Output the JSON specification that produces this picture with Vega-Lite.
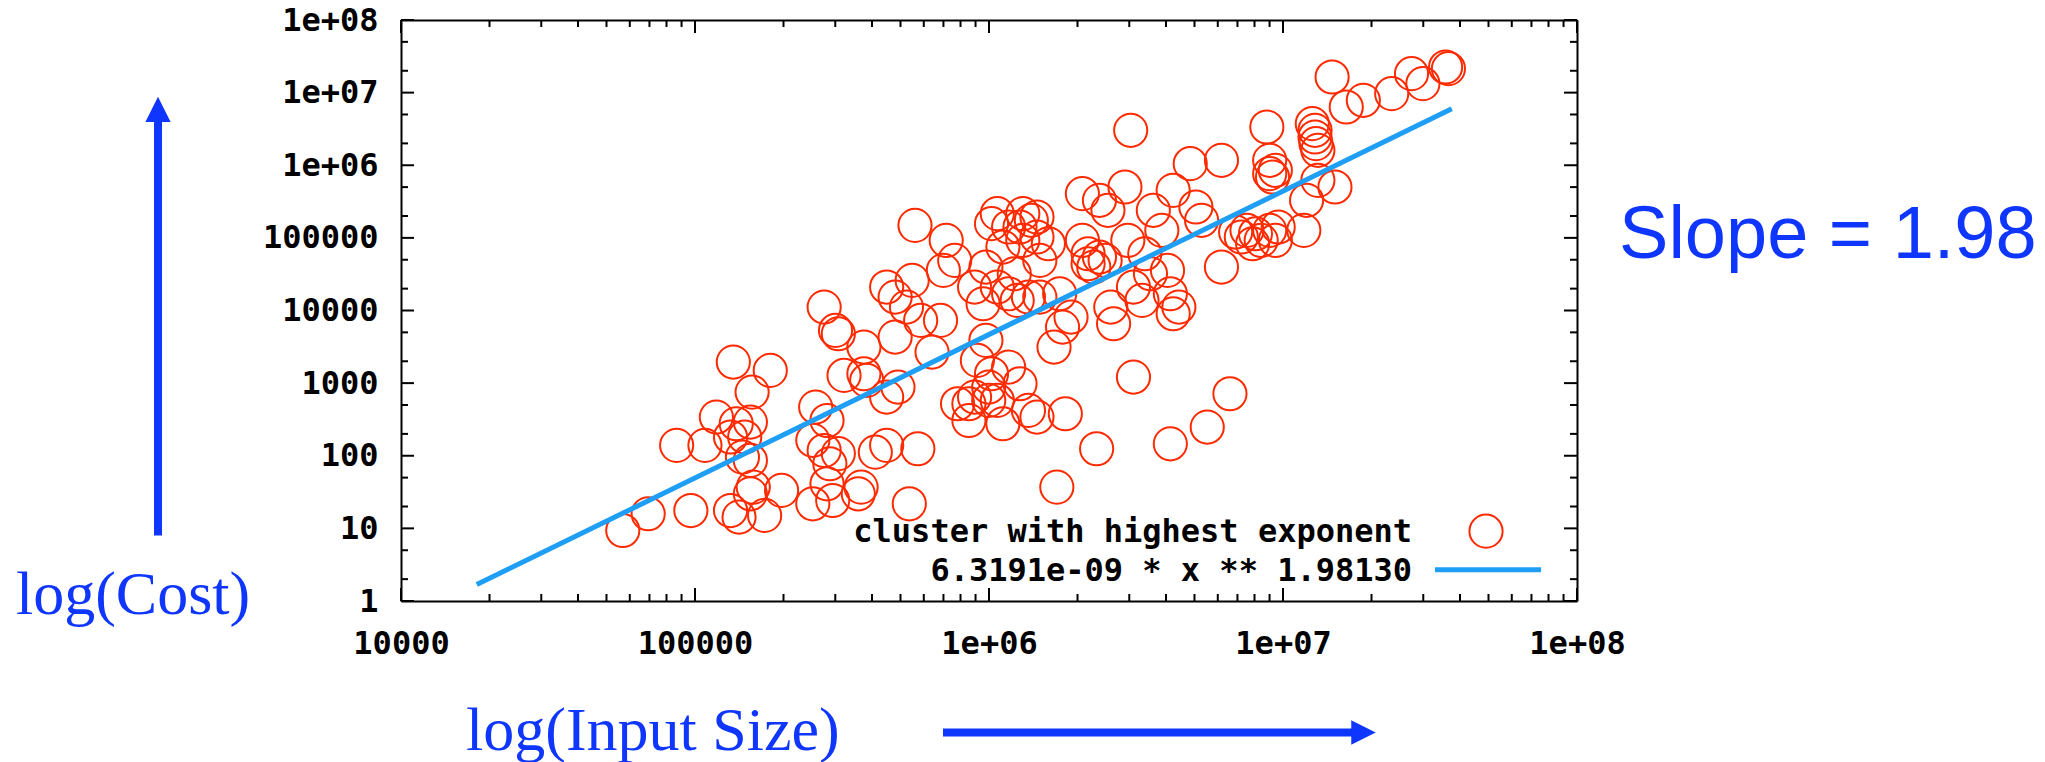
{
  "$schema": "https://vega.github.io/schema/vega-lite/v6.json",
  "width": 1176,
  "height": 581,
  "autosize": {"type": "none"},
  "padding": {"left": 401, "top": 20, "right": 468, "bottom": 161},
  "background": "#ffffff",
  "config": {
    "view": {"stroke": null},
    "axis": {
      "domainColor": "#000000", "domainWidth": 2,
      "labelFont": "DejaVu Sans Mono", "labelFontWeight": "bold", "labelFontSize": 32, "labelColor": "#000000",
      "labelOverlap": false, "labelFlush": false, "labelBound": false
    }
  },
  "datasets": {
    "points": [
      {"size": 56800, "cost": 9.35}, {"size": 69300, "cost": 15.9}, {"size": 96800, "cost": 17.6}, {"size": 86600, "cost": 139},
      {"size": 108100, "cost": 139}, {"size": 118200, "cost": 341}, {"size": 135000, "cost": 1949}, {"size": 180300, "cost": 1496},
      {"size": 156400, "cost": 752}, {"size": 138100, "cost": 276}, {"size": 154300, "cost": 291}, {"size": 147600, "cost": 181},
      {"size": 154300, "cost": 86.2}, {"size": 132100, "cost": 17.6}, {"size": 141200, "cost": 14.3}, {"size": 172500, "cost": 15.1},
      {"size": 154300, "cost": 29.9}, {"size": 197000, "cost": 33.3}, {"size": 251600, "cost": 21.8}, {"size": 157800, "cost": 37.0},
      {"size": 257300, "cost": 468}, {"size": 281200, "cost": 306}, {"size": 251600, "cost": 163}, {"size": 275000, "cost": 118},
      {"size": 287500, "cost": 77.5}, {"size": 307300, "cost": 107}, {"size": 281200, "cost": 41.1}, {"size": 294000, "cost": 24.2},
      {"size": 359200, "cost": 29.9}, {"size": 367200, "cost": 37.0}, {"size": 410500, "cost": 112}, {"size": 448600, "cost": 139},
      {"size": 572700, "cost": 125}, {"size": 535700, "cost": 21.8}, {"size": 275000, "cost": 11150}, {"size": 300600, "cost": 5319},
      {"size": 307300, "cost": 4786}, {"size": 321300, "cost": 1277}, {"size": 375400, "cost": 3135}, {"size": 375400, "cost": 1346},
      {"size": 383800, "cost": 1089}, {"size": 448600, "cost": 642}, {"size": 479400, "cost": 4307}, {"size": 490200, "cost": 882},
      {"size": 448600, "cost": 21030}, {"size": 479400, "cost": 15310}, {"size": 524000, "cost": 11150}, {"size": 547800, "cost": 25980},
      {"size": 560100, "cost": 148700}, {"size": 585500, "cost": 7306}, {"size": 640100, "cost": 2676}, {"size": 684100, "cost": 7306},
      {"size": 715200, "cost": 92380}, {"size": 699500, "cost": 35670}, {"size": 764500, "cost": 48990}, {"size": 781700, "cost": 520},
      {"size": 893200, "cost": 642}, {"size": 854400, "cost": 306}, {"size": 913100, "cost": 2055}, {"size": 976100, "cost": 3873},
      {"size": 954600, "cost": 12390}, {"size": 998000, "cost": 882}, {"size": 1020000, "cost": 1346}, {"size": 1067000, "cost": 578},
      {"size": 1115000, "cost": 276}, {"size": 1166000, "cost": 1663}, {"size": 1275000, "cost": 980}, {"size": 1362000, "cost": 421},
      {"size": 1456000, "cost": 341}, {"size": 1818000, "cost": 379}, {"size": 1701000, "cost": 37.0}, {"size": 893200, "cost": 21030},
      {"size": 976100, "cost": 39660}, {"size": 1020000, "cost": 156800}, {"size": 1115000, "cost": 74770}, {"size": 1219000, "cost": 32100},
      {"size": 1275000, "cost": 141000}, {"size": 1303000, "cost": 215300}, {"size": 1393000, "cost": 174300}, {"size": 1456000, "cost": 102700},
      {"size": 1489000, "cost": 48990}, {"size": 1247000, "cost": 13770}, {"size": 1362000, "cost": 15310}, {"size": 1489000, "cost": 15310},
      {"size": 1592000, "cost": 83110}, {"size": 1664000, "cost": 3135}, {"size": 1739000, "cost": 17020}, {"size": 1779000, "cost": 5912},
      {"size": 1901000, "cost": 8120}, {"size": 2078000, "cost": 92380}, {"size": 2078000, "cost": 405900}, {"size": 2173000, "cost": 60530},
      {"size": 2272000, "cost": 39660}, {"size": 2375000, "cost": 328600}, {"size": 2483000, "cost": 48990}, {"size": 2538000, "cost": 239300},
      {"size": 2595000, "cost": 11150}, {"size": 2653000, "cost": 6572}, {"size": 2323000, "cost": 125}, {"size": 3100000, "cost": 1211},
      {"size": 2900000, "cost": 501400}, {"size": 3033000, "cost": 3025000}, {"size": 2966000, "cost": 92380}, {"size": 3100000, "cost": 21030},
      {"size": 3314000, "cost": 13770}, {"size": 3388000, "cost": 60530}, {"size": 3542000, "cost": 32100}, {"size": 3622000, "cost": 239300},
      {"size": 3871000, "cost": 126900}, {"size": 4047000, "cost": 35670}, {"size": 4231000, "cost": 451100}, {"size": 4138000, "cost": 17020},
      {"size": 4231000, "cost": 9027}, {"size": 4424000, "cost": 11150}, {"size": 4836000, "cost": 1051000}, {"size": 5055000, "cost": 265900},
      {"size": 5285000, "cost": 174300}, {"size": 4138000, "cost": 146}, {"size": 5525000, "cost": 248}, {"size": 6175000, "cost": 1168000},
      {"size": 6175000, "cost": 39660}, {"size": 6600000, "cost": 714}, {"size": 6901000, "cost": 120300}, {"size": 7543000, "cost": 126900},
      {"size": 8062000, "cost": 114100}, {"size": 8429000, "cost": 92380}, {"size": 8811000, "cost": 3362000}, {"size": 9010000, "cost": 1168000},
      {"size": 9212000, "cost": 688300}, {"size": 9419000, "cost": 850800}, {"size": 9010000, "cost": 126900}, {"size": 9630000, "cost": 141000},
      {"size": 11770000, "cost": 126900}, {"size": 12030000, "cost": 328600}, {"size": 12580000, "cost": 3736000}, {"size": 12850000, "cost": 2449000},
      {"size": 13140000, "cost": 1604000}, {"size": 12850000, "cost": 3025000}, {"size": 13140000, "cost": 619400}, {"size": 15020000, "cost": 501400},
      {"size": 14690000, "cost": 16420000}, {"size": 16410000, "cost": 6341000}, {"size": 18760000, "cost": 7833000}, {"size": 23430000, "cost": 9678000},
      {"size": 27360000, "cost": 18250000}, {"size": 29910000, "cost": 13290000}, {"size": 35730000, "cost": 22550000}, {"size": 36530000, "cost": 21380000},
      {"size": 12950000, "cost": 1982000}, {"size": 7215000, "cost": 102700}, {"size": 7884000, "cost": 83100}, {"size": 1067000, "cost": 215300},
      {"size": 1166000, "cost": 141000}, {"size": 1456000, "cost": 193600}, {"size": 2173000, "cost": 44080}, {"size": 2375000, "cost": 54450},
      {"size": 1303000, "cost": 92380}, {"size": 1067000, "cost": 21030}, {"size": 1166000, "cost": 17020}, {"size": 854400, "cost": 520},
      {"size": 998000, "cost": 578}, {"size": 9010000, "cost": 765300}, {"size": 9419000, "cost": 92380}, {"size": 132100, "cost": 181},
      {"size": 145000, "cost": 95.7}
    ],
    "fit": [{"size": 18100, "cost": 1.69}, {"size": 37500000, "cost": 6000000}],
    "xMajor": [{"v": 10000}, {"v": 100000}, {"v": 1000000}, {"v": 10000000}, {"v": 100000000}],
    "xMinor": [
      {"v": 20000}, {"v": 30000}, {"v": 40000}, {"v": 50000}, {"v": 60000}, {"v": 70000}, {"v": 80000}, {"v": 90000},
      {"v": 200000}, {"v": 300000}, {"v": 400000}, {"v": 500000}, {"v": 600000}, {"v": 700000}, {"v": 800000}, {"v": 900000},
      {"v": 2000000}, {"v": 3000000}, {"v": 4000000}, {"v": 5000000}, {"v": 6000000}, {"v": 7000000}, {"v": 8000000}, {"v": 9000000},
      {"v": 20000000}, {"v": 30000000}, {"v": 40000000}, {"v": 50000000}, {"v": 60000000}, {"v": 70000000}, {"v": 80000000}, {"v": 90000000}
    ],
    "yMajor": [{"v": 1}, {"v": 10}, {"v": 100}, {"v": 1000}, {"v": 10000}, {"v": 100000}, {"v": 1000000}, {"v": 10000000}, {"v": 100000000}],
    "yMinor": [
      {"v": 2}, {"v": 5}, {"v": 20}, {"v": 50}, {"v": 200}, {"v": 500}, {"v": 2000}, {"v": 5000},
      {"v": 20000}, {"v": 50000}, {"v": 200000}, {"v": 500000}, {"v": 2000000}, {"v": 5000000}, {"v": 20000000}, {"v": 50000000}
    ],
    "arrows": [
      {"size": 1491, "cost": 7.98, "size2": 1491, "cost2": 4030000},
      {"size": 697500, "cost": 0.01545, "size2": 17570000, "cost2": 0.01545}
    ],
    "headUp": [{"size": 1491, "cost": 5890000}],
    "headRight": [{"size": 18780000, "cost": 0.01545}],
    "serifText": [
      {"label": "log(Cost)", "size": 490, "cost": 0.6726},
      {"label": "log(Input Size)", "size": 16640, "cost": 0.009006}
    ],
    "slope": [{"label": "Slope = 1.98", "size": 139000000, "cost": 52200}],
    "legendText": [
      {"label": "cluster with highest exponent", "size": 27470000, "cost": 8.87},
      {"label": "6.3191e-09 * x ** 1.98130", "size": 27470000, "cost": 2.63}
    ],
    "legendPoint": [{"size": 49040000, "cost": 9.15}],
    "legendLine": [{"size": 32890000, "cost": 2.69, "size2": 75460000, "cost2": 2.69}]
  },
  "resolve": {"axis": {"x": "independent", "y": "independent"}},
  "layer": [
    {
      "data": {"name": "xMajor"},
      "mark": {"type": "tick", "orient": "vertical", "size": 13, "thickness": 2, "color": "#000000", "opacity": 1, "yOffset": -6.5},
      "encoding": {
        "x": {"field": "v", "type": "quantitative", "scale": {"type": "log", "domain": [10000, 100000000], "nice": false}, "axis": null},
        "y": {"datum": 1, "type": "quantitative", "scale": {"type": "log", "domain": [1, 100000000], "nice": false}, "axis": null}
      }
    },
    {
      "data": {"name": "xMajor"},
      "mark": {"type": "tick", "orient": "vertical", "size": 13, "thickness": 2, "color": "#000000", "opacity": 1, "yOffset": 6.5},
      "encoding": {
        "x": {"field": "v", "type": "quantitative", "scale": {"type": "log", "domain": [10000, 100000000], "nice": false}, "axis": null},
        "y": {"datum": 100000000, "type": "quantitative", "scale": {"type": "log", "domain": [1, 100000000], "nice": false}, "axis": null}
      }
    },
    {
      "data": {"name": "xMinor"},
      "mark": {"type": "tick", "orient": "vertical", "size": 7, "thickness": 2, "color": "#000000", "opacity": 1, "yOffset": -3.5},
      "encoding": {
        "x": {"field": "v", "type": "quantitative", "scale": {"type": "log", "domain": [10000, 100000000], "nice": false}, "axis": null},
        "y": {"datum": 1, "type": "quantitative", "scale": {"type": "log", "domain": [1, 100000000], "nice": false}, "axis": null}
      }
    },
    {
      "data": {"name": "xMinor"},
      "mark": {"type": "tick", "orient": "vertical", "size": 7, "thickness": 2, "color": "#000000", "opacity": 1, "yOffset": 3.5},
      "encoding": {
        "x": {"field": "v", "type": "quantitative", "scale": {"type": "log", "domain": [10000, 100000000], "nice": false}, "axis": null},
        "y": {"datum": 100000000, "type": "quantitative", "scale": {"type": "log", "domain": [1, 100000000], "nice": false}, "axis": null}
      }
    },
    {
      "data": {"name": "yMajor"},
      "mark": {"type": "tick", "orient": "horizontal", "size": 13, "thickness": 2, "color": "#000000", "opacity": 1, "xOffset": 6.5},
      "encoding": {
        "x": {"datum": 10000, "type": "quantitative", "scale": {"type": "log", "domain": [10000, 100000000], "nice": false}, "axis": null},
        "y": {"field": "v", "type": "quantitative", "scale": {"type": "log", "domain": [1, 100000000], "nice": false}, "axis": null}
      }
    },
    {
      "data": {"name": "yMajor"},
      "mark": {"type": "tick", "orient": "horizontal", "size": 13, "thickness": 2, "color": "#000000", "opacity": 1, "xOffset": -6.5},
      "encoding": {
        "x": {"datum": 100000000, "type": "quantitative", "scale": {"type": "log", "domain": [10000, 100000000], "nice": false}, "axis": null},
        "y": {"field": "v", "type": "quantitative", "scale": {"type": "log", "domain": [1, 100000000], "nice": false}, "axis": null}
      }
    },
    {
      "data": {"name": "yMinor"},
      "mark": {"type": "tick", "orient": "horizontal", "size": 7, "thickness": 2, "color": "#000000", "opacity": 1, "xOffset": 3.5},
      "encoding": {
        "x": {"datum": 10000, "type": "quantitative", "scale": {"type": "log", "domain": [10000, 100000000], "nice": false}, "axis": null},
        "y": {"field": "v", "type": "quantitative", "scale": {"type": "log", "domain": [1, 100000000], "nice": false}, "axis": null}
      }
    },
    {
      "data": {"name": "yMinor"},
      "mark": {"type": "tick", "orient": "horizontal", "size": 7, "thickness": 2, "color": "#000000", "opacity": 1, "xOffset": -3.5},
      "encoding": {
        "x": {"datum": 100000000, "type": "quantitative", "scale": {"type": "log", "domain": [10000, 100000000], "nice": false}, "axis": null},
        "y": {"field": "v", "type": "quantitative", "scale": {"type": "log", "domain": [1, 100000000], "nice": false}, "axis": null}
      }
    },
    {
      "data": {"name": "points"},
      "mark": {"type": "point", "shape": "circle", "filled": false, "stroke": "#FF2A00", "strokeWidth": 2, "size": 1100, "opacity": 1},
      "encoding": {
        "x": {"field": "size", "type": "quantitative",
          "scale": {"type": "log", "domain": [10000, 100000000], "nice": false},
          "axis": {"orient": "bottom", "title": null, "ticks": false, "domain": true, "grid": false,
            "values": [10000, 100000, 1000000, 10000000, 100000000],
            "labelExpr": "datum.value == 10000 ? '10000' : datum.value == 100000 ? '100000' : datum.value == 1000000 ? '1e+06' : datum.value == 10000000 ? '1e+07' : '1e+08'",
            "labelPadding": 27}},
        "y": {"field": "cost", "type": "quantitative",
          "scale": {"type": "log", "domain": [1, 100000000], "nice": false},
          "axis": {"orient": "left", "title": null, "ticks": false, "domain": true, "grid": false,
            "values": [1, 10, 100, 1000, 10000, 100000, 1000000, 10000000, 100000000],
            "labelExpr": "datum.value == 1 ? '1' : datum.value == 10 ? '10' : datum.value == 100 ? '100' : datum.value == 1000 ? '1000' : datum.value == 10000 ? '10000' : datum.value == 100000 ? '100000' : datum.value == 1000000 ? '1e+06' : datum.value == 10000000 ? '1e+07' : '1e+08'",
            "labelPadding": 23}}
      }
    },
    {
      "data": {"name": "fit"},
      "mark": {"type": "line", "stroke": "#1E9EF5", "strokeWidth": 5},
      "encoding": {
        "x": {"field": "size", "type": "quantitative",
          "scale": {"type": "log", "domain": [10000, 100000000], "nice": false},
          "axis": {"orient": "top", "title": null, "labels": false, "ticks": false, "domain": true, "grid": false, "values": [10000]}},
        "y": {"field": "cost", "type": "quantitative",
          "scale": {"type": "log", "domain": [1, 100000000], "nice": false},
          "axis": {"orient": "right", "title": null, "labels": false, "ticks": false, "domain": true, "grid": false, "values": [1]}}
      }
    },
    {
      "data": {"name": "arrows"},
      "mark": {"type": "rule", "stroke": "#0F36FF", "strokeWidth": 8, "strokeCap": "butt", "clip": false},
      "encoding": {
        "x": {"field": "size", "type": "quantitative", "scale": {"type": "log", "domain": [10000, 100000000], "nice": false}, "axis": null},
        "x2": {"field": "size2"},
        "y": {"field": "cost", "type": "quantitative", "scale": {"type": "log", "domain": [1, 100000000], "nice": false}, "axis": null},
        "y2": {"field": "cost2"}
      }
    },
    {
      "data": {"name": "headUp"},
      "mark": {"type": "point", "shape": "M0,-1L-1,1L1,1Z", "filled": true, "fill": "#0F36FF", "strokeWidth": 0, "size": 640, "opacity": 1, "clip": false},
      "encoding": {
        "x": {"field": "size", "type": "quantitative", "scale": {"type": "log", "domain": [10000, 100000000], "nice": false}, "axis": null},
        "y": {"field": "cost", "type": "quantitative", "scale": {"type": "log", "domain": [1, 100000000], "nice": false}, "axis": null}
      }
    },
    {
      "data": {"name": "headRight"},
      "mark": {"type": "point", "shape": "M1,0L-1,-1L-1,1Z", "filled": true, "fill": "#0F36FF", "strokeWidth": 0, "size": 600, "opacity": 1, "clip": false},
      "encoding": {
        "x": {"field": "size", "type": "quantitative", "scale": {"type": "log", "domain": [10000, 100000000], "nice": false}, "axis": null},
        "y": {"field": "cost", "type": "quantitative", "scale": {"type": "log", "domain": [1, 100000000], "nice": false}, "axis": null}
      }
    },
    {
      "data": {"name": "serifText"},
      "mark": {"type": "text", "font": "Liberation Serif", "fontSize": 62, "color": "#0F36FF", "align": "left", "baseline": "alphabetic", "clip": false},
      "encoding": {
        "x": {"field": "size", "type": "quantitative", "scale": {"type": "log", "domain": [10000, 100000000], "nice": false}, "axis": null},
        "y": {"field": "cost", "type": "quantitative", "scale": {"type": "log", "domain": [1, 100000000], "nice": false}, "axis": null},
        "text": {"field": "label"}
      }
    },
    {
      "data": {"name": "slope"},
      "mark": {"type": "text", "font": "Liberation Sans", "fontSize": 74, "color": "#0F36FF", "align": "left", "baseline": "alphabetic", "clip": false},
      "encoding": {
        "x": {"field": "size", "type": "quantitative", "scale": {"type": "log", "domain": [10000, 100000000], "nice": false}, "axis": null},
        "y": {"field": "cost", "type": "quantitative", "scale": {"type": "log", "domain": [1, 100000000], "nice": false}, "axis": null},
        "text": {"field": "label"}
      }
    },
    {
      "data": {"name": "legendText"},
      "mark": {"type": "text", "font": "DejaVu Sans Mono", "fontWeight": "bold", "fontSize": 32, "color": "#000000", "align": "right", "baseline": "middle"},
      "encoding": {
        "x": {"field": "size", "type": "quantitative", "scale": {"type": "log", "domain": [10000, 100000000], "nice": false}, "axis": null},
        "y": {"field": "cost", "type": "quantitative", "scale": {"type": "log", "domain": [1, 100000000], "nice": false}, "axis": null},
        "text": {"field": "label"}
      }
    },
    {
      "data": {"name": "legendPoint"},
      "mark": {"type": "point", "shape": "circle", "filled": false, "stroke": "#FF2A00", "strokeWidth": 2, "size": 1100, "opacity": 1},
      "encoding": {
        "x": {"field": "size", "type": "quantitative", "scale": {"type": "log", "domain": [10000, 100000000], "nice": false}, "axis": null},
        "y": {"field": "cost", "type": "quantitative", "scale": {"type": "log", "domain": [1, 100000000], "nice": false}, "axis": null}
      }
    },
    {
      "data": {"name": "legendLine"},
      "mark": {"type": "rule", "stroke": "#1E9EF5", "strokeWidth": 5},
      "encoding": {
        "x": {"field": "size", "type": "quantitative", "scale": {"type": "log", "domain": [10000, 100000000], "nice": false}, "axis": null},
        "x2": {"field": "size2"},
        "y": {"field": "cost", "type": "quantitative", "scale": {"type": "log", "domain": [1, 100000000], "nice": false}, "axis": null},
        "y2": {"field": "cost2"}
      }
    }
  ]
}
